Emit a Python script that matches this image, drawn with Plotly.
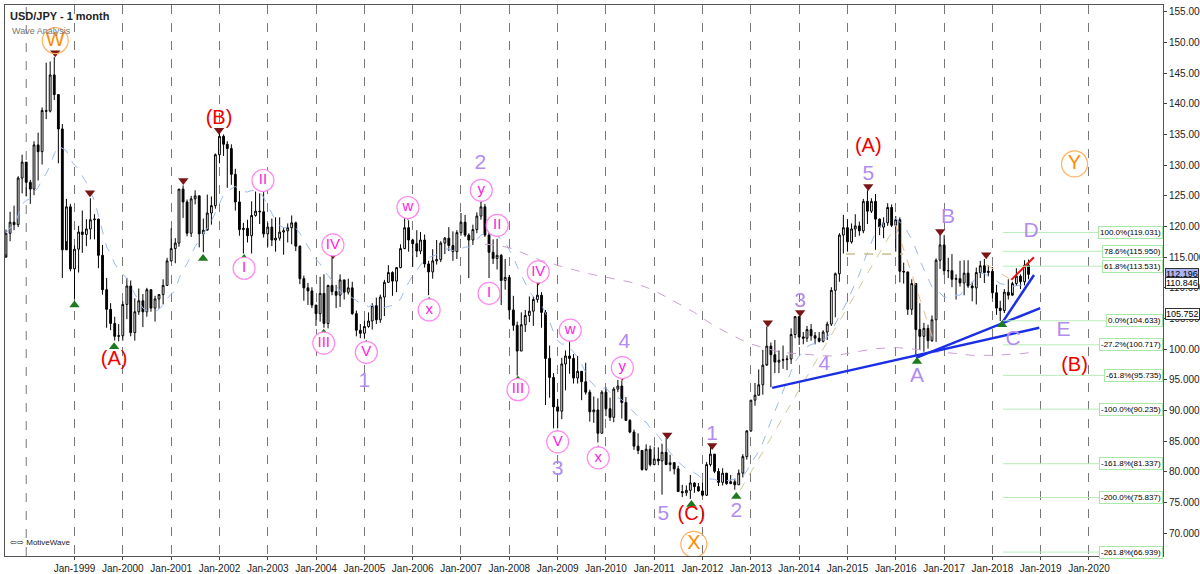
import pandas as pd
import plotly.graph_objects as go

# monthly USD/JPY, Aug 1997 .. Oct 2018
closes = [118.9, 120.7, 120.3, 127.9, 130.5,
    127.2, 126.1, 133.3, 132.2, 138.9, 138.8, 144.7, 141.5, 135.9, 116.2, 123.2, 113.1,
    116.3, 119.1, 118.7, 119.6, 121.1, 121.2, 115.3, 109.7, 106.5, 104.2, 102.1, 102.2,
    107.3, 110.3, 102.7, 106.1, 107.9, 106.1, 109.7, 106.7, 108.2, 108.9, 110.4, 114.4,
    116.4, 117.3, 126.1, 124.0, 118.9, 124.5, 125.0, 118.8, 119.4, 122.2, 123.4, 131.7,
    134.7, 133.4, 132.7, 128.5, 124.0, 119.5, 119.7, 118.5, 121.8, 122.5, 122.4, 118.8,
    119.9, 117.8, 118.1, 119.1, 119.3, 119.8, 120.6, 116.8, 111.5, 110.0, 109.5, 107.2,
    105.8, 109.1, 104.2, 110.4, 109.4, 108.8, 111.3, 109.3, 110.0, 105.8, 103.1, 102.6,
    103.7, 104.6, 107.1, 104.8, 108.5, 110.9, 112.5, 111.1, 113.3, 116.4, 119.8, 117.8,
    117.2, 116.0, 117.8, 113.9, 112.6, 114.4, 114.6, 117.3, 118.1, 116.9, 115.9, 119.0,
    120.7, 118.6, 117.8, 119.5, 121.7, 123.2, 118.6, 115.8, 114.8, 115.3, 111.2, 111.7,
    106.4, 103.9, 99.7, 104.0, 105.5, 106.2, 108.1, 108.8, 106.0, 98.5, 95.4, 90.6,
    89.9, 97.6, 98.9, 98.5, 95.3, 96.4, 94.7, 93.0, 89.8, 90.1, 86.3, 93.0,
    90.3, 88.9, 93.5, 94.0, 91.3, 88.4, 86.5, 84.2, 83.5, 80.4, 83.7, 81.2,
    82.1, 81.8, 83.2, 81.2, 81.5, 80.5, 76.8, 76.6, 77.0, 78.2, 77.6, 76.9,
    76.2, 81.2, 82.9, 80.1, 78.3, 79.8, 78.1, 78.4, 77.9, 79.8, 82.5, 86.7,
    91.7, 92.5, 94.2, 97.4, 100.5, 99.1, 97.9, 98.2, 98.3, 98.4, 102.4, 105.3,
    102.0, 101.8, 103.2, 102.2, 101.8, 101.3, 102.8, 104.1, 109.6, 112.3, 118.6, 119.8,
    117.5, 119.6, 120.1, 119.3, 124.1, 122.5, 124.1, 121.2, 119.9, 120.6, 123.1, 120.2,
    121.1, 112.7, 112.6, 106.5, 110.7, 103.2, 102.1, 103.4, 101.4, 104.8, 114.5, 117.0,
    112.8, 112.8, 111.4, 111.5, 110.8, 112.4, 110.3, 110.0, 112.5, 113.6, 112.5, 112.7,
    109.2, 106.7, 106.3, 109.3, 108.8, 110.7, 111.9, 111.0, 113.7, 112.2]
highs = [119.5, 122.4, 123.4, 128.2, 131.7,
    130.0, 127.6, 133.9, 135.3, 139.4, 146.7, 146.9, 147.6, 139.8, 136.7, 124.5, 123.7,
    116.9, 120.1, 122.6, 121.2, 124.6, 122.0, 121.3, 117.0, 111.6, 107.5, 105.3, 104.1,
    107.8, 111.6, 111.2, 108.3, 109.9, 109.0, 110.0, 109.5, 108.7, 109.0, 111.4, 114.9,
    119.7, 118.1, 126.0, 126.7, 124.4, 125.0, 125.9, 124.0, 121.3, 125.2, 124.9, 131.9,
    135.2, 135.0, 133.9, 133.4, 129.4, 125.8, 120.6, 121.1, 124.1, 125.7, 125.4, 125.6,
    120.6, 121.3, 121.5, 121.5, 119.8, 120.5, 121.8, 120.8, 116.9, 112.0, 110.8, 110.1,
    107.0, 111.8, 112.2, 110.5, 114.9, 110.5, 112.2, 111.3, 111.5, 111.0, 106.3, 104.1,
    104.7, 106.0, 107.5, 108.4, 108.9, 111.3, 113.7, 112.7, 113.4, 117.1, 121.4, 121.0,
    118.0, 119.4, 119.1, 118.7, 114.4, 116.3, 117.8, 117.6, 118.3, 119.9, 119.2, 119.4,
    122.2, 121.9, 118.9, 120.3, 122.3, 124.1, 123.7, 119.8, 117.9, 118.0, 115.5, 114.7,
    112.1, 108.7, 104.5, 106.0, 106.4, 108.6, 108.6, 110.7, 109.3, 106.4, 100.6, 96.1,
    91.9, 98.6, 99.8, 101.4, 99.2, 98.9, 95.6, 97.8, 93.4, 92.3, 92.0, 93.3,
    93.8, 92.1, 93.8, 95.0, 94.9, 92.2, 88.6, 86.9, 86.3, 83.3, 84.5, 84.3,
    84.1, 84.0, 84.6, 85.5, 82.8, 81.6, 81.0, 77.9, 77.8, 79.5, 78.3, 78.2,
    78.3, 81.6, 84.2, 82.6, 80.6, 80.6, 79.7, 79.5, 78.9, 80.4, 82.9, 86.6,
    91.7, 94.5, 96.7, 99.9, 103.7, 101.1, 101.5, 99.8, 100.6, 99.0, 103.4, 105.4,
    105.4, 102.8, 103.8, 104.1, 102.8, 102.8, 103.1, 104.5, 110.1, 112.5, 118.9, 121.9,
    121.2, 120.5, 122.0, 120.8, 124.5, 125.9, 124.6, 125.3, 121.3, 121.5, 123.8, 123.6,
    121.7, 121.5, 114.1, 112.3, 111.4, 110.0, 107.5, 104.3, 104.0, 105.5, 114.8, 118.7,
    118.6, 114.9, 115.5, 112.2, 114.4, 114.5, 114.5, 111.0, 113.3, 114.4, 114.7, 113.7,
    113.4, 110.5, 107.9, 109.8, 111.4, 111.0, 113.2, 112.2, 114.5, 114.6]
lows = [115.5, 117.6, 119.4, 119.9, 125.4,
    124.9, 123.7, 125.1, 127.5, 130.1, 137.5, 138.6, 140.6, 130.3, 111.6, 117.6, 112.7,
    108.2, 112.5, 115.7, 116.8, 117.9, 117.9, 113.2, 108.9, 103.5, 103.1, 101.4, 101.3,
    101.4, 104.9, 102.1, 101.4, 105.6, 103.6, 105.3, 106.1, 104.5, 106.6, 107.3, 110.4,
    114.3, 114.0, 116.7, 121.4, 118.4, 118.3, 123.6, 116.6, 115.8, 119.6, 120.3, 122.9,
    130.3, 131.5, 126.3, 126.8, 122.6, 118.5, 115.6, 117.4, 115.6, 121.6, 120.4, 118.2,
    116.7, 116.8, 115.9, 117.7, 115.4, 117.4, 117.1, 116.0, 110.6, 107.9, 107.2, 106.7,
    103.8, 104.5, 103.5, 103.4, 108.8, 106.7, 106.9, 108.1, 108.9, 105.6, 102.1, 101.8,
    101.7, 103.5, 103.2, 104.1, 104.3, 105.4, 110.8, 108.7, 109.3, 113.2, 116.3, 115.9,
    113.4, 115.0, 115.5, 113.3, 108.8, 111.5, 113.8, 114.2, 115.5, 116.0, 114.4, 114.7,
    118.5, 118.3, 111.6, 117.0, 118.9, 121.1, 118.3, 111.6, 113.9, 113.0, 107.2, 109.7,
    104.9, 103.0, 95.7, 99.7, 102.8, 104.4, 103.8, 107.6, 103.5, 90.9, 92.1, 87.1,
    87.1, 88.6, 93.3, 96.0, 94.4, 94.4, 91.7, 92.6, 88.2, 88.0, 84.8, 86.3,
    89.1, 88.3, 88.1, 93.0, 88.7, 88.4, 86.3, 83.6, 82.9, 80.2, 80.2, 80.9,
    81.1, 81.1, 76.3, 81.4, 80.1, 79.6, 76.8, 75.9, 76.1, 75.6, 76.6, 76.8,
    76.0, 76.1, 80.9, 79.8, 77.7, 77.8, 77.9, 78.0, 77.1, 77.9, 79.1, 82.0,
    86.5, 90.8, 92.6, 92.6, 97.6, 93.8, 96.1, 96.1, 96.8, 96.6, 97.6, 101.8,
    100.7, 100.8, 101.2, 101.4, 100.8, 101.1, 101.1, 101.5, 103.8, 105.2, 111.0, 115.6,
    115.9, 117.2, 118.3, 118.5, 118.9, 120.4, 122.2, 116.2, 118.6, 118.1, 120.1, 119.9,
    115.9, 110.9, 110.7, 105.6, 105.6, 99.0, 99.9, 99.6, 100.1, 101.2, 101.2, 113.1,
    112.1, 111.6, 110.1, 108.1, 110.2, 108.8, 110.0, 107.8, 107.3, 111.6, 110.8, 111.9,
    108.3, 105.6, 104.6, 105.9, 108.1, 109.2, 110.3, 109.8, 110.4, 111.4]
first_open = 115.0

# wave labels: (text, year, price)
red_labels = [("(A)", 1999.82, 98.3), ("(B)", 2001.99, 137.5), ("(C)", 2011.77, 73.0),
              ("(A)", 2015.43, 133.0), ("(B)", 2019.7, 97.3)]
lav_labels = [("1", 2005.0, 94.7), ("2", 2007.4, 130.3), ("3", 2009.0, 80.3), ("4", 2010.38, 101.0),
              ("5", 2011.19, 73.0), ("1", 2012.2, 86.0), ("2", 2012.7, 73.5), ("3", 2014.02, 107.7),
              ("4", 2014.52, 97.5), ("5", 2015.43, 128.4), ("A", 2016.44, 95.5), ("B", 2017.08, 121.4),
              ("C", 2018.43, 101.5), ("D", 2018.8, 119.1), ("E", 2019.47, 103.0)]
pink_labels = [("I", 2002.51, 113.2), ("II", 2002.9, 127.5), ("III", 2004.16, 101.0), ("IV", 2004.35, 117.0),
               ("V", 2005.04, 99.5), ("w", 2005.9, 123.1), ("x", 2006.34, 106.4), ("y", 2007.42, 125.9),
               ("I", 2007.58, 109.1), ("II", 2007.75, 120.2), ("III", 2008.18, 93.4), ("IV", 2008.6, 112.6),
               ("w", 2009.26, 103.1), ("V", 2009.0, 84.9), ("x", 2009.84, 82.3), ("y", 2010.34, 97.0)]
orange_labels = [("W", 1998.6, 150.3), ("X", 2011.82, 68.2), ("Y", 2019.7, 130.2)]
tops = [(1998.6, 148.3), (1999.32, 125.5), (2001.25, 127.5), (2001.99, 135.7), (2004.35, 115.4),
        (2005.9, 121.8), (2007.42, 124.6), (2008.6, 111.1), (2010.34, 95.6), (2011.27, 86.0),
        (2012.2, 84.3), (2013.35, 104.3), (2014.02, 106.0), (2015.43, 126.5), (2016.92, 119.2),
        (2017.87, 115.4)]
bottoms = [(1999.0, 107.2), (1999.82, 100.4), (2001.66, 114.8), (2002.51, 114.8), (2004.16, 102.6),
           (2005.04, 100.8), (2006.34, 107.8), (2008.18, 95.0), (2009.0, 86.2), (2009.84, 83.6),
           (2011.77, 74.7), (2012.7, 76.0), (2016.44, 98.0), (2018.2, 104.0)]
fib_levels = [119.031, 115.950, 113.531, 104.633, 100.717, 95.735, 90.235, 81.337, 75.837, 66.939]
fib_names = ["100.0%", "78.6%", "61.8%", "0.0%", "-27.2%", "-61.8%", "-100.0%", "-161.8%", "-200.0%", "-261.8%"]
trend_blue = [((2013.44, 93.7), (2018.97, 103.5)), ((2016.42, 98.6), (2018.99, 106.7)),
              ((2018.2, 104.3), (2018.86, 112.1))]
trend_red = ((2018.39, 111.3), (2018.86, 115.0))
tick_years = list(range(1999, 2021))


def yr(f):
    y = int(f)
    return pd.Timestamp(year=y, month=1, day=1) + pd.Timedelta(days=(f - y) * 365.25)


dates = pd.date_range("1997-08-01", periods=len(closes), freq="MS")
opens = [first_open] + closes[:-1]
s = pd.Series(closes)
ma_fast = s.rolling(12, min_periods=1).mean()
ma_slow = s.rolling(120).mean()

fig = go.Figure()
fig.add_trace(go.Candlestick(x=dates, open=opens, high=highs, low=lows, close=closes,
    increasing=dict(line=dict(color="black", width=1), fillcolor="white"),
    decreasing=dict(line=dict(color="black", width=1), fillcolor="black"),
    whiskerwidth=0, showlegend=False, hoverinfo="skip"))
fig.add_trace(go.Scatter(x=dates, y=ma_fast, mode="lines", line=dict(color="#9db8f0", width=1, dash="dash"), hoverinfo="skip"))
fig.add_trace(go.Scatter(x=dates, y=ma_slow, mode="lines", line=dict(color="#c9a0d0", width=1, dash="dash"), hoverinfo="skip"))

# helper lines
fig.add_trace(go.Scatter(x=[yr(2012.78), yr(2016.0)], y=[77.0, 120.2], mode="lines", line=dict(color="#d2c89a", width=1, dash="dash")))
fig.add_trace(go.Scatter(x=[yr(2014.97), yr(2016.15)], y=[115.5, 115.5], mode="lines", line=dict(color="#c8c090", width=1.5, dash="dash")))
fig.add_trace(go.Scatter(x=[yr(2016.0), yr(2016.8)], y=[120.2, 101.0], mode="lines", line=dict(color="#f5b88a", width=1, dash="dash")))
fig.add_trace(go.Scatter(x=[yr(2017.87), yr(2018.39)], y=[113.8, 111.3], mode="lines", line=dict(color="#f5b88a", width=1, dash="dash")))
for a, b in trend_blue:
    fig.add_trace(go.Scatter(x=[yr(a[0]), yr(b[0])], y=[a[1], b[1]], mode="lines", line=dict(color="#1a2ee6", width=2.5)))
fig.add_trace(go.Scatter(x=[yr(trend_red[0][0]), yr(trend_red[1][0])], y=[trend_red[0][1], trend_red[1][1]],
                         mode="lines", line=dict(color="#ee1111", width=2)))
for lv in fib_levels:
    fig.add_trace(go.Scatter(x=[yr(2018.22), yr(2021.53)], y=[lv, lv], mode="lines", line=dict(color="#b8ecb8", width=1)))

fig.add_trace(go.Scatter(x=[yr(t[0]) for t in tops], y=[t[1] for t in tops], mode="markers",
                         marker=dict(symbol="triangle-down", size=9, color="#7a1515")))
fig.add_trace(go.Scatter(x=[yr(t[0]) for t in bottoms], y=[t[1] for t in bottoms], mode="markers",
                         marker=dict(symbol="triangle-up", size=9, color="#1e7a1e")))
fig.add_trace(go.Scatter(x=[yr(t[1]) for t in pink_labels], y=[t[2] for t in pink_labels], mode="markers+text",
                         text=[t[0] for t in pink_labels], textfont=dict(color="#ff22dd", size=15, family="Arial"),
                         marker=dict(symbol="circle", size=22, color="white", line=dict(color="#ff88ee", width=1.2))))
fig.add_trace(go.Scatter(x=[yr(t[1]) for t in orange_labels], y=[t[2] for t in orange_labels], mode="markers+text",
                         text=[t[0] for t in orange_labels], textfont=dict(color="#ff8c00", size=20, family="Arial"),
                         marker=dict(symbol="circle", size=26, color="rgba(255,255,255,0)", line=dict(color="#ffb060", width=1.2))))
fig.add_trace(go.Scatter(x=[yr(t[1]) for t in red_labels], y=[t[2] for t in red_labels], mode="text",
                         text=[t[0] for t in red_labels], textfont=dict(color="#ee0000", size=20, family="Arial")))
fig.add_trace(go.Scatter(x=[yr(t[1]) for t in lav_labels], y=[t[2] for t in lav_labels], mode="text",
                         text=[t[0] for t in lav_labels], textfont=dict(color="#b28cf0", size=21, family="Arial")))

for lv, nm in zip(fib_levels, fib_names):
    fig.add_annotation(x=1, xref="paper", y=lv, yref="y", xanchor="right", text=f"{nm}({lv:.3f})", showarrow=False,
                       font=dict(size=8, color="black", family="Arial"), bgcolor="white", bordercolor="#a8e8a8",
                       borderwidth=1, borderpad=1)
for lv, bg in [(112.196, "#a8b4f4"), (110.846, "white"), (105.752, "white")]:
    fig.add_annotation(x=1, xref="paper", y=lv, yref="y", xanchor="left", xshift=2, text=f"{lv:.3f}", showarrow=False,
                       font=dict(size=9, color="black", family="Arial"), bgcolor=bg, bordercolor="#333",
                       borderwidth=1, borderpad=0)

fig.add_annotation(x=0.003, y=0.995, xref="paper", yref="paper", xanchor="left", yanchor="top", showarrow=False,
                   text="<b>USD/JPY - 1 month</b>", font=dict(size=11, color="#222", family="Arial"))
fig.add_annotation(x=0.004, y=0.965, xref="paper", yref="paper", xanchor="left", yanchor="top", showarrow=False,
                   text="Wave Analysis", font=dict(size=9, color="#777", family="Arial"))
fig.add_annotation(x=0.003, y=0.012, xref="paper", yref="paper", xanchor="left", yanchor="bottom", showarrow=False,
                   text="⇦⇨ MotiveWave", font=dict(size=8, color="#222", family="Arial"))
# the first grid line (Jan-1998) carries no label in the original
fig.add_vline(x=yr(1998.0), line=dict(color="#777", width=1, dash="dash"), layer="below")

fig.update_layout(width=1200, height=574, margin=dict(l=5, r=37, t=5, b=18, autoexpand=False), showlegend=False,
                  plot_bgcolor="white", paper_bgcolor="white")
fig.update_xaxes(range=[yr(1997.56), yr(2021.53)], rangeslider_visible=False, type="date", automargin=False,
                 tickmode="array", tickvals=[yr(y) for y in tick_years],
                 ticktext=[f"Jan-{y}" for y in tick_years], showgrid=True, gridcolor="#777",
                 griddash="dash", gridwidth=1, ticks="outside", ticklen=3, tickcolor="#444",
                 tickfont=dict(size=10, family="Arial", color="#222"), showline=True, linecolor="#555", mirror=True)
fig.update_yaxes(range=[66.3, 156.1], side="right", dtick=5, tick0=70, tickformat=".3f", showgrid=False,
                 automargin=False, ticks="outside", ticklen=3, tickcolor="#444",
                 tickfont=dict(size=10, family="Arial", color="#222"),
                 showline=True, linecolor="#555", mirror=True, zeroline=False)
fig.write_html("out.html", config={"displayModeBar": False},
               post_script="document.body.style.margin='0';document.body.style.overflow='hidden';")
